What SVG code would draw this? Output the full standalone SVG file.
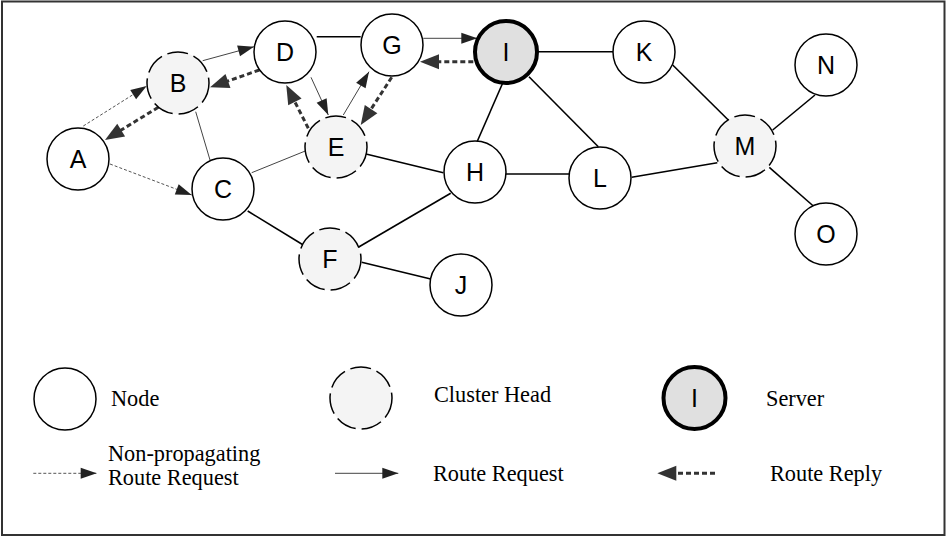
<svg xmlns="http://www.w3.org/2000/svg" width="946" height="538" viewBox="0 0 946 538">
<defs>
<style>
.nd{fill:#fff;stroke:#000;stroke-width:1.5}
.ch{fill:#f4f4f4;stroke:#000;stroke-width:1.5;stroke-dasharray:21 6}
.sv{fill:#e0e0e0;stroke:#000;stroke-width:4}
.lb{font-family:"Liberation Sans",Arial,sans-serif;font-size:25px;fill:#000;text-anchor:middle}
.lg{font-family:"Liberation Serif","Times New Roman",serif;font-size:22.3px;fill:#000}
.ln{stroke:#000;stroke-width:1.6;fill:none}
.th{stroke:#444;stroke-width:1;fill:none}
.rq{stroke:#444;stroke-width:1;fill:none;marker-end:url(#mrq)}
.np{stroke:#555;stroke-width:1;stroke-dasharray:3 2;fill:none;marker-end:url(#mrq)}
.rp{stroke:#333;stroke-width:3;stroke-dasharray:5 3;fill:none;marker-end:url(#mrp)}
</style>
<marker id="mrq" markerUnits="userSpaceOnUse" markerWidth="17" markerHeight="12" refX="16" refY="5.5" orient="auto" overflow="visible">
<path d="M0,0 L16,5.5 L0,11 z" fill="#222"/>
</marker>
<marker id="mrp" markerUnits="userSpaceOnUse" markerWidth="22" markerHeight="16" refX="11" refY="7.5" orient="auto" overflow="visible">
<path d="M0,0 L19,7.5 L0,15 z" fill="#333"/>
</marker>
</defs>
<rect x="2" y="1.5" width="942.5" height="533.5" fill="#fff" stroke="#333" stroke-width="2"/>
<g id="connectors">
<line class="ln" x1="316.7" y1="36.7" x2="360.7" y2="36.7"/>
<line class="ln" x1="366" y1="154" x2="443.3" y2="172.7"/>
<line class="ln" x1="504" y1="80" x2="477" y2="142"/>
<line class="ln" x1="538" y1="51.7" x2="613" y2="51.7"/>
<line class="ln" x1="529" y1="76.7" x2="598.3" y2="146.7"/>
<line class="ln" x1="506" y1="174" x2="569" y2="174"/>
<line class="ln" x1="247.7" y1="211" x2="303.3" y2="245"/>
<line class="ln" x1="358.3" y1="247.3" x2="450.7" y2="193.3"/>
<line class="ln" x1="361.7" y1="262.3" x2="430.7" y2="279"/>
<line class="ln" x1="672.7" y1="65" x2="728.3" y2="120"/>
<line class="ln" x1="631.7" y1="177.3" x2="717.3" y2="162.7"/>
<line class="ln" x1="772.7" y1="130" x2="815" y2="95"/>
<line class="ln" x1="769.3" y1="167.3" x2="813.3" y2="206"/>
<line class="th" x1="195.7" y1="111.7" x2="210" y2="160"/>
<line class="th" x1="251.7" y1="172.7" x2="306" y2="150.7"/>
<line class="rq" x1="202.7" y1="60.7" x2="254" y2="46.7"/>
<line class="rq" x1="311" y1="77.3" x2="328.3" y2="115"/>
<line class="rq" x1="343.3" y1="115" x2="369" y2="71.7"/>
<line class="rq" x1="423.3" y1="38.3" x2="477.3" y2="38.3"/>
<line class="np" x1="83.3" y1="126" x2="146.7" y2="86"/>
<line class="np" x1="110" y1="164" x2="191.7" y2="195"/>
<line class="rp" x1="158.3" y1="107.3" x2="111.8" y2="135.8"/>
<line class="rp" x1="259.3" y1="70" x2="217.6" y2="84.7"/>
<line class="rp" x1="308.3" y1="128.3" x2="289.9" y2="92.1"/>
<line class="rp" x1="391.7" y1="77.3" x2="365.1" y2="118.3"/>
<line class="rp" x1="473.3" y1="61.7" x2="428" y2="61.7"/>
</g>
<g id="node-A"><circle class="nd" cx="78" cy="159" r="31"/><text class="lb" x="78" y="168">A</text></g>
<g id="node-B"><circle class="ch" cx="178" cy="83" r="31"/><text class="lb" x="178" y="92">B</text></g>
<g id="node-C"><circle class="nd" cx="223" cy="189" r="31"/><text class="lb" x="223" y="198">C</text></g>
<g id="node-D"><circle class="nd" cx="285" cy="52" r="31"/><text class="lb" x="285" y="61">D</text></g>
<g id="node-E"><circle class="ch" cx="336" cy="147" r="31"/><text class="lb" x="336" y="156">E</text></g>
<g id="node-F"><circle class="ch" cx="330" cy="259" r="31"/><text class="lb" x="330" y="268">F</text></g>
<g id="node-G"><circle class="nd" cx="392" cy="45" r="31"/><text class="lb" x="392" y="54">G</text></g>
<g id="node-H"><circle class="nd" cx="475" cy="172" r="31"/><text class="lb" x="475" y="181">H</text></g>
<g id="node-I"><circle class="sv" cx="506" cy="52" r="31"/><text class="lb" x="506" y="61">I</text></g>
<g id="node-J"><circle class="nd" cx="461" cy="285" r="31"/><text class="lb" x="461" y="294">J</text></g>
<g id="node-K"><circle class="nd" cx="644" cy="52" r="31"/><text class="lb" x="644" y="61">K</text></g>
<g id="node-L"><circle class="nd" cx="600" cy="178" r="31"/><text class="lb" x="600" y="187">L</text></g>
<g id="node-M"><circle class="ch" cx="745" cy="146" r="31"/><text class="lb" x="745" y="155">M</text></g>
<g id="node-N"><circle class="nd" cx="826" cy="65" r="31"/><text class="lb" x="826" y="74">N</text></g>
<g id="node-O"><circle class="nd" cx="826" cy="234" r="31"/><text class="lb" x="826" y="243">O</text></g>
<g id="legend">
<circle class="nd" cx="65" cy="399" r="31"/>
<text class="lg" x="111" y="405.5">Node</text>
<circle class="ch" cx="361" cy="398" r="31"/>
<text class="lg" x="434" y="401.5">Cluster Head</text>
<circle class="sv" cx="694.5" cy="398" r="31"/>
<text class="lb" x="694.5" y="407">I</text>
<text class="lg" x="766" y="405.5">Server</text>
<line class="np" x1="33.3" y1="473.3" x2="96.7" y2="473.3"/>
<text class="lg" x="108" y="460.5">Non-propagating</text>
<text class="lg" x="108" y="485">Route Request</text>
<line class="rq" x1="335" y1="473.3" x2="398.3" y2="473.3"/>
<text class="lg" x="433" y="481">Route Request</text>
<line class="rp" x1="715" y1="473.3" x2="665.3" y2="473.3"/>
<text class="lg" x="770" y="481">Route Reply</text>
</g>
</svg>
